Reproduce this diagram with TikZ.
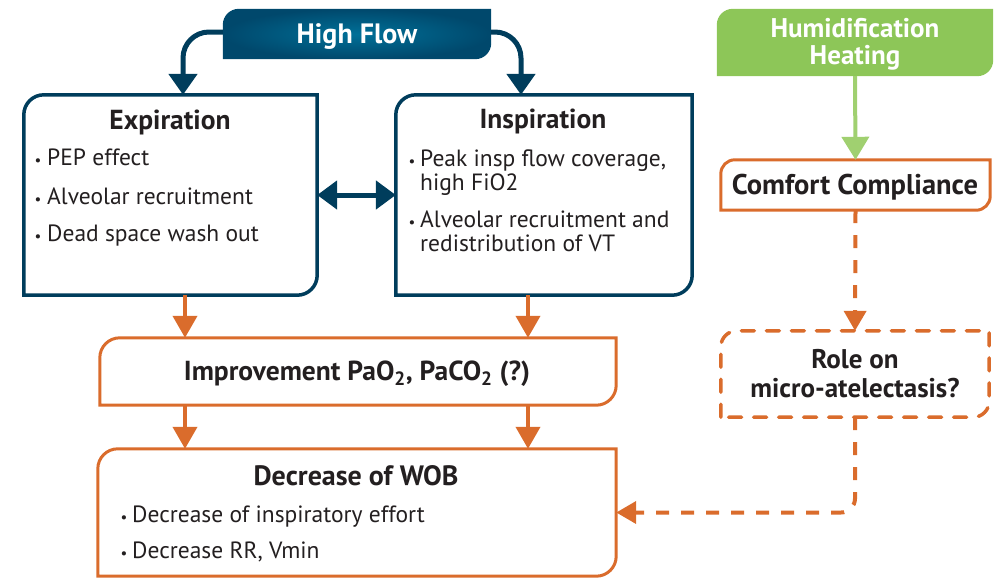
\documentclass[tikz,border=0pt]{standalone}
\usepackage{fontspec}
\setmainfont{PT Sans}
\usetikzlibrary{arrows.meta}
\definecolor{navy}{RGB}{0,61,92}
\definecolor{hfin}{RGB}{0,112,152}
\definecolor{hfout}{RGB}{0,72,108}
\definecolor{orng}{RGB}{218,108,44}
\definecolor{grn}{RGB}{141,198,88}
\definecolor{lgrn}{RGB}{160,208,112}
\definecolor{txt}{RGB}{35,31,32}
\newcommand\leafbox[3]{\path[#3] (#1.south west) -- ([yshift=-#2]#1.north west) arc[start angle=180,end angle=90,radius=#2] -- (#1.north east) -- ([yshift=#2]#1.south east) arc[start angle=0,end angle=-90,radius=#2] -- cycle;}
\newcommand\fs[1]{\fontsize{#1}{#1}\selectfont\bfseries}
\tikzset{
  frame/.style={rectangle,inner sep=0pt,draw=none},
  ttl/.style={anchor=base,inner sep=0pt,text=txt,font=\fs{27.5}},
  wttl/.style={anchor=base,inner sep=0pt,text=white,font=\fs{28}},
  body/.style={anchor=base west,inner sep=0pt,text=txt,font=\fontsize{23.5}{27}\selectfont},
  bul/.style={anchor=base,inner sep=0pt,text=txt,font=\fontsize{15}{16}\selectfont},
  bluearrow/.style={draw=navy,line width=5pt,-{Triangle[width=28pt,length=21pt]}},
  orarrow/.style={draw=orng,line width=4pt,-{Triangle[width=24pt,length=22pt]}},
  dasharrow/.style={draw=orng,line width=4pt,dash pattern=on 13pt off 12pt,-{Triangle[width=22pt,length=20pt]}},
}
\begin{document}
\begin{tikzpicture}[x=1pt,y=-1pt]
\useasboundingbox (0,0) rectangle (1000,579);
% nodes (frames)
\node[frame,minimum width=268pt,minimum height=50pt] (hf) at (357,34) {};
\node[frame,minimum width=293pt,minimum height=200pt] (exp) at (170.5,195) {};
\node[frame,minimum width=296pt,minimum height=200pt] (insp) at (544,195) {};
\node[frame,minimum width=516pt,minimum height=67pt] (imp) at (358,371.5) {};
\node[frame,minimum width=518pt,minimum height=127pt] (wob) at (357,512.5) {};
\node[frame,minimum width=276pt,minimum height=67pt] (hum) at (855,42.5) {};
\node[frame,minimum width=269pt,minimum height=50pt] (comf) at (855.5,185) {};
\node[frame,minimum width=268pt,minimum height=86pt] (role) at (855,374) {};
% shapes
\leafbox{hf}{16pt}{inner color=hfin,outer color=hfout}
\leafbox{hum}{16pt}{fill=grn}
\leafbox{exp}{20pt}{draw=navy,line width=3.5pt,fill=white}
\leafbox{insp}{20pt}{draw=navy,line width=3.5pt,fill=white}
\leafbox{imp}{20pt}{draw=orng,line width=3pt,fill=white}
\leafbox{wob}{20pt}{draw=orng,line width=3pt,fill=white}
\leafbox{comf}{14pt}{draw=orng,line width=3pt,fill=white}
\leafbox{role}{16pt}{draw=orng,line width=3.5pt,dash pattern=on 13pt off 12pt,line cap=round,fill=white}
% connectors
\coordinate (hfl) at (hf.west |- 0,32);
\coordinate (hfr) at (hf.east |- 0,32);
\draw[bluearrow,rounded corners=26pt] (hfl) -| (exp.north -| 183,0);
\draw[bluearrow,rounded corners=26pt] (hfr) -| (insp.north -| 521,0);
\draw[draw=navy,line width=5pt,{Triangle[width=28pt,length=20pt]}-{Triangle[width=28pt,length=20pt]}] (exp.east) -- (insp.west);
\draw[orarrow] (exp.south -| 185,0) -- (imp.north -| 185,0);
\draw[orarrow] (insp.south -| 528,0) -- (imp.north -| 528,0);
\draw[orarrow] (imp.south -| 185,0) -- (wob.north -| 185,0);
\draw[orarrow] (imp.south -| 528,0) -- (wob.north -| 528,0);
\draw[draw=lgrn,line width=4pt,-{Triangle[width=27pt,length=23pt]}] (hum.south) -- (comf.north);
\draw[dasharrow] (comf.south) -- (role.north);
\draw[dasharrow,rounded corners=14pt] (role.south) |- (wob.east);
% texts
\node[wttl,font=\fs{28}] (thf) at (357,43) {High Flow};
\node[wttl,font=\fontsize{27}{26.5}\selectfont\bfseries,align=center] (thum) at (855,64) {Humidification\\Heating};
\node[ttl,font=\fs{28.5}] (tcomf) at (855,194) {Comfort Compliance};
\node[ttl,font=\fs{27}] (trole1) at (855,368) {Role on};
\node[ttl,font=\fs{27}] (trole2) at (855,397) {micro-atelectasis?};
\node[ttl] (texp) at (170,129) {Expiration};
\node[ttl] (tinsp) at (543,128) {Inspiration};
\node[ttl] (timp) at (357,380) {Improvement PaO\textsubscript{2}, PaCO\textsubscript{2} (?)};
\node[ttl,font=\fs{28}] (twob) at (356,485) {Decrease of WOB};
% expiration bullets
\node[bul] (be1) at (38,165) {•};
\node[body] (te1) at (47,165) {PEP effect};
\node[bul] (be2) at (38,204) {•};
\node[body] (te2) at (47,204) {Alveolar recruitment};
\node[bul] (be3) at (38,241) {•};
\node[body] (te3) at (47,241) {Dead space wash out};
% inspiration bullets
\node[bul] (bi1) at (412,166) {•};
\node[body] (ti1) at (420,166) {Peak insp flow coverage,};
\node[body] (ti1b) at (420,190) {high FiO2};
\node[bul] (bi2) at (412,227) {•};
\node[body] (ti2) at (420,227) {Alveolar recruitment and};
\node[body] (ti2b) at (420,251) {redistribution of VT};
% wob bullets
\node[bul] (bw1) at (124,522) {•};
\node[body] (tw1) at (132,522) {Decrease of inspiratory effort};
\node[bul] (bw2) at (124,558) {•};
\node[body] (tw2) at (132,558) {Decrease RR, Vmin};
\end{tikzpicture}
\end{document}
